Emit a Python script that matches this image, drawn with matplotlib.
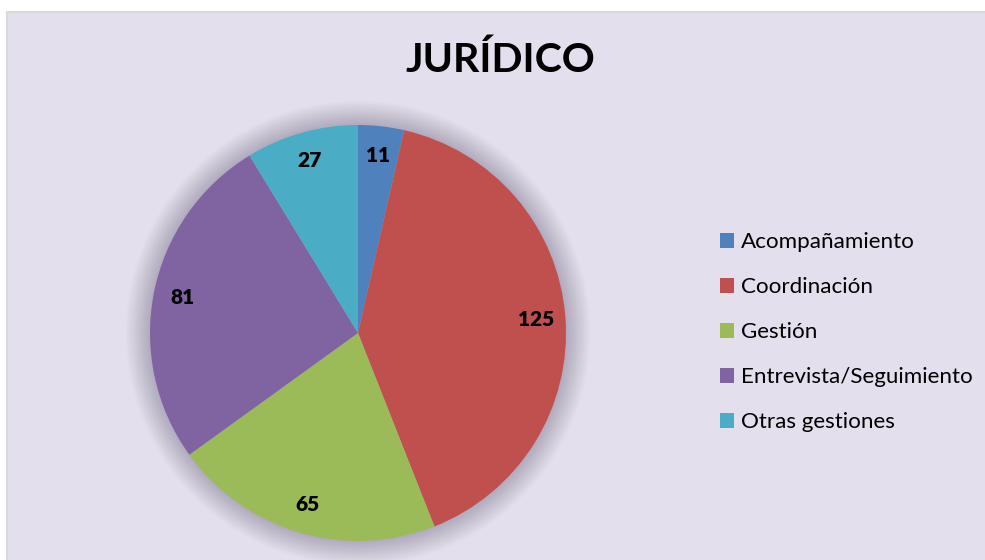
import matplotlib
matplotlib.use('Agg')
import matplotlib.pyplot as plt
from matplotlib.patches import Rectangle, Circle

plt.rcParams['font.family'] = ['Lato', 'DejaVu Sans']

title = 'JURÍDICO'
categories = ['Acompañamiento', 'Coordinación', 'Gestión',
              'Entrevista/Seguimiento', 'Otras gestiones']
values = [11, 125, 65, 81, 27]
colors = ['#4F81BD', '#C0504D', '#9BBB59', '#8064A2', '#4BACC6']

W, H = 985, 560
fig = plt.figure(figsize=(W / 100, H / 100), dpi=100, facecolor='white')
ax = fig.add_axes([0, 0, 1, 1])

# chart area background with thin grey border
ax.add_patch(Rectangle((7, -10), W, H - 12 + 10, facecolor='#E4DFEC',
                       edgecolor='#D9D9D9', linewidth=1.5, zorder=0))

cx, cy, r = 358, H - 333, 208

# soft shadow around the pie
for i in range(18):
    ax.add_patch(Circle((cx, cy), r + 24 - i * 1.4, facecolor='#3a2a50',
                        alpha=0.014, edgecolor='none', zorder=1))

wedges, texts = ax.pie(values, colors=colors, startangle=90, counterclock=False,
                       center=(cx, cy), radius=r, labels=[str(v) for v in values],
                       labeldistance=0.86, frame=True,
                       textprops=dict(fontsize=15, fontweight='heavy', color='black'),
                       wedgeprops=dict(linewidth=0, zorder=2))
for t in texts:
    t.set_ha('center')
    t.set_va('center')
    t.set_zorder(3)
ax.set_xlim(0, W)
ax.set_ylim(0, H)
ax.set_aspect('equal')
ax.axis('off')

ax.text(500, H - 60, title, ha='center', va='center', fontsize=29.5,
        fontweight='bold', color='black')

leg = ax.legend(wedges, categories, loc='center left',
                bbox_to_anchor=(711 / W, 1 - 332 / H), frameon=False,
                fontsize=16.1, handlelength=0.65, handleheight=0.65,
                handletextpad=0.3, labelspacing=1.12, borderaxespad=0)

fig.savefig('out.png', dpi=100, facecolor='white')
